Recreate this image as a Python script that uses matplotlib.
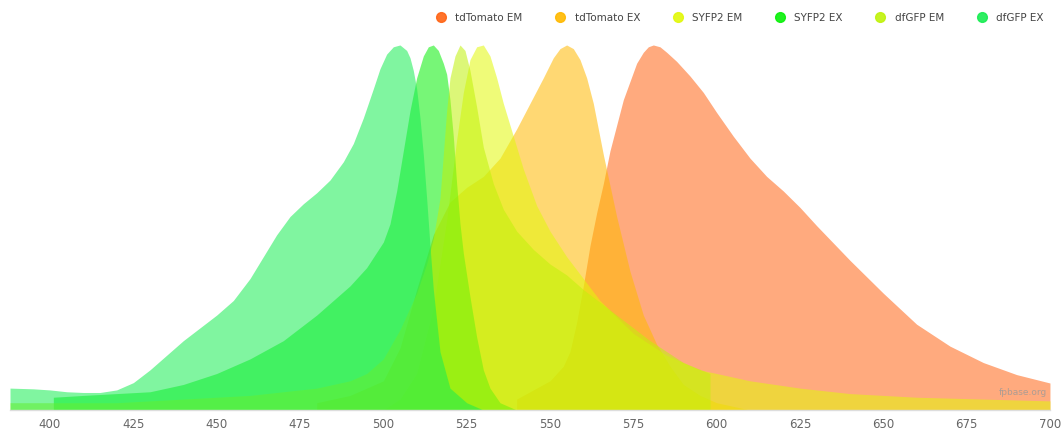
import matplotlib.pyplot as plt
from matplotlib.lines import Line2D

# spectra (wavelength nm, normalised value)
dfgfp_ex_wl = [388, 395, 400, 405, 410, 415, 420, 425, 430, 435, 440, 445, 450, 455, 460, 464, 468, 472,
               476, 480, 484, 488, 491, 494, 497, 499, 501, 503, 505, 507, 508, 509, 510, 511, 512, 513,
               514, 515, 517, 520, 525, 530]
dfgfp_ex = [0.06, 0.058, 0.055, 0.05, 0.048, 0.048, 0.055, 0.075, 0.11, 0.15, 0.19, 0.225, 0.26, 0.30, 0.36, 0.42, 0.48, 0.53,
            0.565, 0.595, 0.63, 0.68, 0.73, 0.80, 0.88, 0.935, 0.975, 0.995, 1.0, 0.985, 0.965, 0.93, 0.88, 0.80, 0.70, 0.58,
            0.45, 0.33, 0.16, 0.06, 0.02, 0.0]

syfp2_ex_wl = [401, 410, 420, 430, 440, 450, 460, 470, 480, 485, 490, 495, 500, 502, 504, 506, 508, 510, 512,
               513.5, 515, 516.5, 518, 519, 520, 521, 522, 523, 524, 526, 528, 530, 532, 535, 540]
syfp2_ex = [0.035, 0.04, 0.045, 0.05, 0.07, 0.10, 0.14, 0.19, 0.26, 0.30, 0.34, 0.39, 0.46, 0.51, 0.60, 0.71, 0.82, 0.91, 0.97,
            0.995, 1.0, 0.985, 0.95, 0.92, 0.85, 0.75, 0.62, 0.51, 0.43, 0.31, 0.2, 0.11, 0.06, 0.02, 0.0]

dfgfp_em_wl = [388, 400, 420, 440, 460, 480, 490, 495, 500, 505, 510, 513, 515, 517, 518, 519, 520, 521.5, 523,
               524.5, 526, 528, 530, 533, 536, 540, 545, 550, 555, 560, 570, 580, 590, 598]
dfgfp_em = [0.02, 0.02, 0.02, 0.03, 0.04, 0.06, 0.08, 0.10, 0.14, 0.22, 0.32, 0.40, 0.47, 0.58, 0.70, 0.82, 0.91, 0.97, 1.0,
            0.985, 0.93, 0.83, 0.72, 0.62, 0.55, 0.49, 0.44, 0.40, 0.37, 0.33, 0.26, 0.19, 0.13, 0.10]

syfp2_em_wl = [500, 505, 510, 515, 519, 522, 524, 526, 528, 530, 532, 534, 536, 539, 542, 546, 550, 555, 560,
               565, 575, 585, 595, 610, 625, 640, 660, 680, 700]
syfp2_em = [0.0, 0.03, 0.10, 0.28, 0.52, 0.74, 0.87, 0.96, 0.995, 1.0, 0.97, 0.91, 0.84, 0.75, 0.66, 0.56, 0.49, 0.42, 0.36,
            0.30, 0.21, 0.15, 0.11, 0.08, 0.06, 0.045, 0.035, 0.03, 0.025]

tdtomato_ex_wl = [480, 490, 500, 505, 510, 515, 520, 525, 530, 535, 540, 544, 548, 551, 553, 555, 557, 559,
                  561, 563, 566, 570, 574, 578, 582, 586, 590, 595, 600, 610]
tdtomato_ex = [0.02, 0.04, 0.08, 0.17, 0.33, 0.48, 0.57, 0.61, 0.64, 0.69, 0.77, 0.84, 0.91, 0.965, 0.99, 1.0, 0.99, 0.96,
               0.91, 0.84, 0.70, 0.53, 0.38, 0.26, 0.18, 0.12, 0.07, 0.04, 0.02, 0.0]

tdtomato_em_wl = [540, 550, 554, 556, 558, 560, 562, 564, 566, 568, 570, 572, 574, 576, 578, 579.5, 581, 583,
                  585, 588, 592, 596, 600, 605, 610, 615, 620, 625, 630, 640, 650, 660, 670, 680, 690, 700]
tdtomato_em = [0.03, 0.08, 0.12, 0.16, 0.24, 0.34, 0.45, 0.54, 0.62, 0.71, 0.78, 0.85, 0.90, 0.95, 0.98, 0.995, 1.0, 0.995,
               0.98, 0.955, 0.915, 0.87, 0.815, 0.75, 0.69, 0.64, 0.60, 0.555, 0.505, 0.41, 0.32, 0.235, 0.175, 0.13, 0.097, 0.074]

names = ["tdTomato EM", "tdTomato EX", "SYFP2 EM", "SYFP2 EX", "dfGFP EM", "dfGFP EX"]
colors = ["#ff6414", "#ffb900", "#e2f80a", "#08f008", "#c0f20a", "#18ed52"]
series = [(tdtomato_em_wl, tdtomato_em), (tdtomato_ex_wl, tdtomato_ex), (syfp2_em_wl, syfp2_em),
          (syfp2_ex_wl, syfp2_ex), (dfgfp_em_wl, dfgfp_em), (dfgfp_ex_wl, dfgfp_ex)]
ticks = [400, 425, 450, 475, 500, 525, 550, 575, 600, 625, 650, 675, 700]

fig = plt.figure(figsize=(10.64, 4.32), dpi=100)
ax = fig.add_axes([0.0094, 0.0509, 0.9774, 0.845])

for (wl, val), c in zip(series, colors):
    ax.fill_between(wl, 0, val, color=c, alpha=0.55, linewidth=0)

ax.set_xlim(388, 700)
ax.set_ylim(0, 1.0)
ax.set_xticks(ticks)
ax.tick_params(axis='x', length=0, labelsize=8.5, labelcolor='#666666', pad=6)
ax.set_yticks([])
for s in ['top', 'left', 'right']:
    ax.spines[s].set_visible(False)
ax.spines['bottom'].set_color('#dddddd')
ax.spines['bottom'].set_linewidth(1)

ax.text(0.997, 0.035, "fpbase.org", transform=ax.transAxes, ha='right', va='bottom',
        fontsize=6.5, color='#999999', alpha=0.8)

handles = [Line2D([], [], marker='o', linestyle='', markersize=7, color=c, alpha=0.9) for c in colors]
fig.legend(handles, names, loc='center right', bbox_to_anchor=(0.986, 0.958), ncol=6, frameon=False,
           fontsize=7.5, labelcolor='#444444', handletextpad=0.4, columnspacing=2.6, borderpad=0)

fig.savefig("out.png", dpi=100)
